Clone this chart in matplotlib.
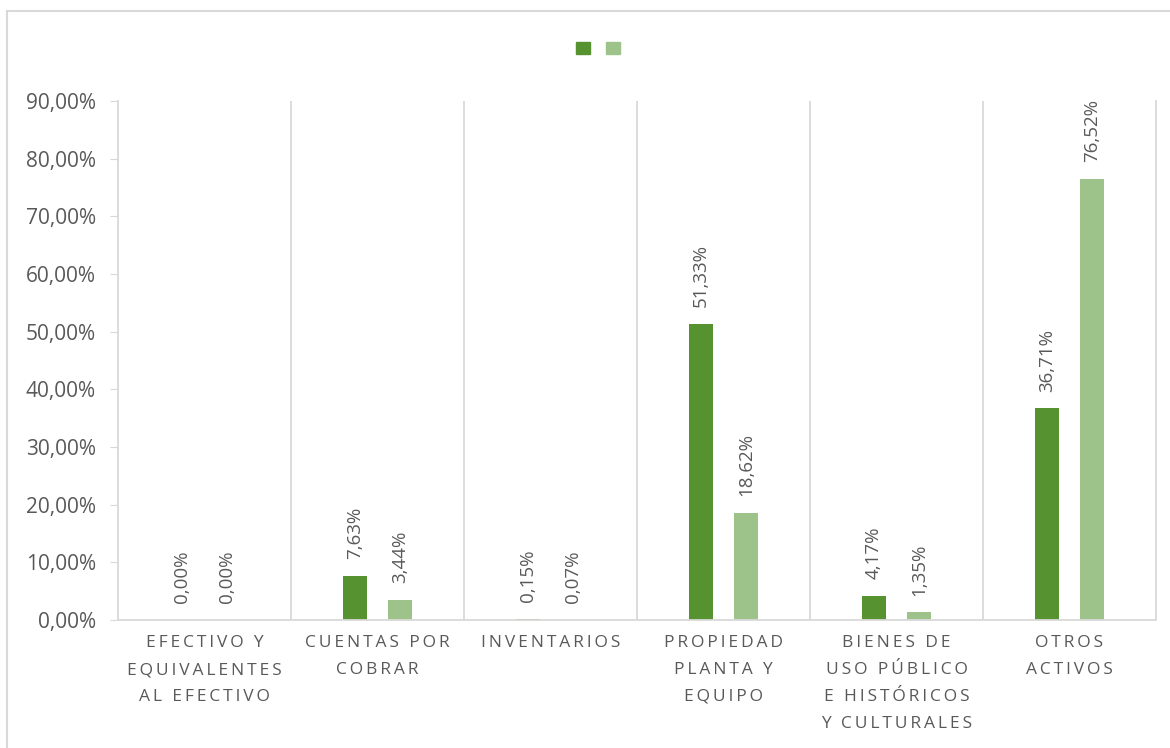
import numpy as np
import matplotlib.pyplot as plt
from matplotlib.patches import Patch, Rectangle

# data
categories = ['EFECTIVO Y\nEQUIVALENTES\nAL EFECTIVO', 'CUENTAS POR\nCOBRAR', 'INVENTARIOS',
              'PROPIEDAD\nPLANTA Y\nEQUIPO', 'BIENES DE\nUSO PÚBLICO\nE HISTÓRICOS\nY CULTURALES',
              'OTROS\nACTIVOS']
serie_1 = [0.00, 7.63, 0.15, 51.33, 4.17, 36.71]
serie_2 = [0.00, 3.44, 0.07, 18.62, 1.35, 76.52]
y_ticks = [0, 10, 20, 30, 40, 50, 60, 70, 80, 90]

dark_green = '#56922F'
light_green = '#9DC38A'
grid_grey = '#D9D9D9'
text_grey = '#595959'

plt.rcParams['font.family'] = ['Open Sans', 'DejaVu Sans']


def spaced(s):
    # imitate Excel's letter spacing with thin spaces
    return '\n'.join('\u2009'.join(line) for line in s.split('\n'))


def pct(v):
    return ('%.2f%%' % v).replace('.', ',')


fig = plt.figure(figsize=(11.7, 7.48), dpi=100)
ax = fig.add_axes([118 / 1170, 1 - 620 / 748, (1156 - 118) / 1170, (620 - 101) / 748])

x = np.arange(len(categories))
w = 0.14
off = 0.13
b1 = ax.bar(x - off, serie_1, w, color=dark_green, label='')
b2 = ax.bar(x + off, serie_2, w, color=light_green, label='')

for bars, vals in ((b1, serie_1), (b2, serie_2)):
    for rect, v in zip(bars, vals):
        ax.annotate(pct(v), (rect.get_x() + rect.get_width() / 2, v),
                    xytext=(0, 12), textcoords='offset points', rotation=90,
                    ha='center', va='bottom', fontsize=13.5, color=text_grey)

ax.set_xlim(-0.5, len(categories) - 0.5)
ax.set_ylim(0, 90)
for b in np.arange(0.5, len(categories) - 0.5, 1):
    ax.axvline(b, color=grid_grey, lw=1.3, zorder=0)

ax.set_yticks(y_ticks)
ax.set_yticklabels([pct(t) for t in y_ticks])
ax.tick_params(axis='y', length=6, color=grid_grey, labelsize=15, labelcolor=text_grey, pad=10)
ax.set_xticks(x)
ax.set_xticklabels([spaced(c) for c in categories], fontsize=12.5, color=text_grey, linespacing=1.9)
ax.tick_params(axis='x', length=0, pad=11)

for s in ax.spines.values():
    s.set_color(grid_grey)
    s.set_linewidth(1.3)
ax.spines['top'].set_visible(False)

handles = [Patch(color=dark_green), Patch(color=light_green)]
fig.legend(handles, ['', ''], ncol=2, loc='center', bbox_to_anchor=(598 / 1170, 1 - 49 / 748),
           frameon=False, handlelength=1.0, handleheight=1.0, columnspacing=1.15, handletextpad=0)

fig.patches.append(Rectangle((7 / 1170, -0.05), 1.1, 1 - 11 / 748 + 0.05, transform=fig.transFigure,
                             fill=False, edgecolor=grid_grey, lw=1.5))

fig.savefig('out.png', dpi=100)
